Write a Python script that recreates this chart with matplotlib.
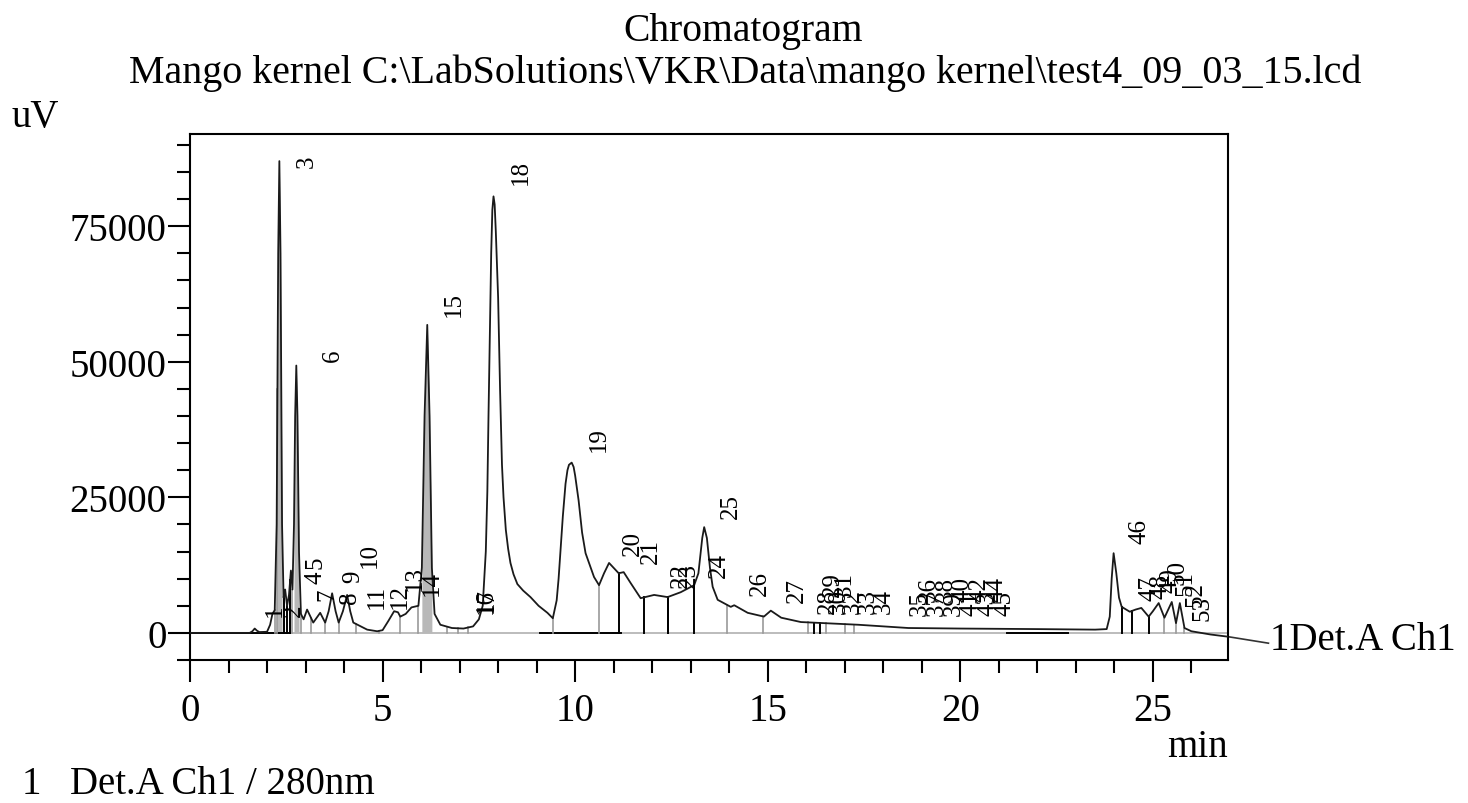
import numpy as np
import matplotlib
matplotlib.use("Agg")
import matplotlib.pyplot as plt
from matplotlib.ticker import MultipleLocator

# ---- data: (retention time [min], signal [uV]) ----
trace_early = [(0.0, 0), (1.55, 0), (1.62, 300), (1.68, 800), (1.74, 400), (1.80, 150), (2.00, 200),
               (2.08, 1500), (2.14, 3500), (2.20, 4200), (2.25, 20000), (2.29, 70000), (2.32, 87000),
               (2.35, 70000), (2.39, 20000), (2.43, 6500), (2.47, 8000), (2.52, 5000), (2.57, 7000),
               (2.62, 11500), (2.66, 8000), (2.70, 20000), (2.73, 40000), (2.76, 49300), (2.79, 40000),
               (2.83, 15000), (2.88, 3500), (2.95, 2500), (3.04, 4300), (3.20, 1900), (3.38, 3700),
               (3.51, 1900), (3.60, 4000), (3.69, 7300), (3.78, 4000), (3.86, 1900), (3.97, 4000),
               (4.08, 7000), (4.16, 4000), (4.24, 1900), (4.60, 600), (4.86, 300), (5.00, 500),
               (5.15, 2200), (5.30, 4000), (5.40, 3800), (5.46, 3000), (5.60, 3500), (5.75, 4700),
               (5.93, 5000), (6.02, 12000), (6.09, 40000), (6.16, 56800), (6.22, 40000), (6.28, 12000),
               (6.35, 3500), (6.50, 1500), (6.80, 900), (7.10, 800), (7.35, 1200), (7.50, 2500)]
trace_middle = [(7.60, 5000), (7.68, 15000), (7.72, 26000), (7.75, 40000), (7.79, 57000), (7.82, 70000),
                (7.85, 78000), (7.88, 80500), (7.91, 79000), (7.94, 74000), (7.97, 68000), (8.00, 61800),
                (8.05, 45000), (8.10, 31000), (8.14, 25000), (8.20, 19000), (8.26, 15500), (8.32, 12900),
                (8.40, 10800), (8.50, 9000), (8.65, 7800), (8.84, 6600), (9.05, 5000), (9.28, 3700),
                (9.42, 2700), (9.52, 6000), (9.57, 10000), (9.62, 15300), (9.68, 21500), (9.75, 27500),
                (9.80, 30000), (9.84, 31000), (9.91, 31400), (9.96, 30600), (10.00, 29000),
                (10.04, 27000), (10.09, 24400), (10.18, 18500), (10.27, 14700), (10.49, 10300),
                (10.62, 8800), (10.75, 11000), (10.88, 12900), (11.00, 12000), (11.13, 11000),
                (11.26, 11200), (11.44, 9200), (11.70, 6400), (12.05, 7000), (12.40, 6600),
                (12.74, 7500), (13.09, 8800), (13.20, 11000), (13.30, 17500), (13.35, 19500),
                (13.42, 17500), (13.50, 12000), (13.57, 8500), (13.70, 6100), (14.04, 4800),
                (14.13, 5100), (14.48, 3700), (14.90, 3000), (15.08, 4100), (15.35, 2800),
                (15.86, 2000), (16.46, 1800), (17.35, 1500), (18.65, 900)]
trace_late = [(20.00, 800), (22.00, 700), (23.50, 600), (23.80, 700), (23.88, 3000), (23.93, 10000),
              (23.98, 14700), (24.05, 11000), (24.12, 6500), (24.19, 4800), (24.40, 3900), (24.55, 4300),
              (24.70, 4600), (24.89, 3000), (25.00, 4000), (25.15, 5500), (25.30, 2800), (25.49, 5700),
              (25.60, 1800), (25.70, 5500), (25.82, 900), (26.00, 300), (26.50, -300), (26.95, -700)]

peak_ids = ["1", "2", "3", "4", "5", "6", "7", "8", "9", "10", "11", "12", "13", "14", "15", "16", "17",
            "18", "19", "20", "21", "22", "23", "24", "25", "26", "27",
            "28", "29", "30", "31", "32", "33", "34",
            "35", "36", "37", "38", "39", "40", "41", "42", "43", "44", "45",
            "46", "47", "48", "49", "50", "51", "52", "53"]
label_time = [2.20, 2.70, 3.02, 3.25, 3.25, 3.72, 3.56, 4.16, 4.24, 4.68, 4.84, 5.46, 5.85, 6.27, 6.85, 7.67, 7.72,
              8.60, 10.62, 11.50, 11.96, 12.75, 12.95, 13.73, 14.04, 14.80, 15.76,
              16.55, 16.70, 16.85, 17.00, 17.20, 17.60, 18.00,
              18.95, 19.17, 19.39, 19.61, 19.83, 20.05, 20.27, 20.49, 20.71, 20.93, 21.15,
              24.66, 24.90, 25.20, 25.45, 25.65, 25.85, 26.10, 26.30]
label_base = [3200, 3200, 86000, 9200, 12000, 50200, 6100, 5500, 9400, 12100, 4600, 4600, 7900, 7000, 58400, 3700, 3900,
              82700, 33600, 14300, 12900, 8500, 8500, 10300, 21100, 7000, 5700,
              3700, 6800, 3700, 6800, 3700, 3700, 3700,
              3300, 5900, 3300, 5900, 3300, 5900, 3300, 5900, 3300, 5900, 3300,
              16500, 6100, 6500, 7500, 9000, 7000, 5000, 2400]

drop_black = [2.43, 2.52, 2.60, 11.13, 11.78, 12.40, 12.42, 13.09, 16.20, 16.35, 24.19, 24.45, 24.89]
drop_gray = [2.20, 2.27, 2.66, 2.88, 3.14, 3.51, 3.86, 4.30, 4.90, 5.46, 5.93, 6.68, 6.97, 7.23,
             9.42, 10.62, 13.93, 14.88, 16.05, 16.50, 17.00, 17.25, 25.30, 25.60, 25.82]
shaded_peaks = [(2.22, 2.42), (2.69, 2.86), (6.02, 6.30)]

x_major = [0, 5, 10, 15, 20, 25]
y_major = [0, 25000, 50000, 75000]

# ---- figure ----
W, H = 1468, 804
fig = plt.figure(figsize=(W / 100, H / 100), dpi=100)
ax = fig.add_axes([190 / W, 1 - 661 / H, (1228 - 190) / W, (661 - 135) / H])
serif = ["Liberation Serif", "DejaVu Serif"]
fs = 28

pts = np.array(trace_early + trace_middle + trace_late, dtype=float)
order = np.argsort(pts[:, 0], kind="stable")
t = pts[order, 0]
s = pts[order, 1]

ax.axhline(0, color="#b0b0b0", lw=1.2, zorder=1)
ax.plot([0, 2.6], [0, 0], color="black", lw=1.4, zorder=2)
ax.plot([9.1, 11.2], [0, 0], color="black", lw=1.4, zorder=2)
ax.plot([21.2, 22.8], [0, 0], color="black", lw=1.4, zorder=2)

# narrow peaks print as grey-filled spikes
for a, b in shaded_peaks:
    m = (t >= a) & (t <= b)
    ax.fill_between(t[m], 0, s[m], color="#b8b8b8", lw=0, zorder=1.5)

for xv in drop_gray:
    ax.plot([xv, xv], [0, np.interp(xv, t, s)], color="#9a9a9a", lw=1.2, zorder=2)
for xv in drop_black:
    ax.plot([xv, xv], [0, np.interp(xv, t, s)], color="black", lw=1.4, zorder=2)

ax.plot(t, s, color="#1a1a1a", lw=1.3, zorder=3)

for lab, lt, lb in zip(peak_ids, label_time, label_base):
    ax.text(lt, lb, lab, rotation=90, ha="center", va="bottom", fontsize=18,
            family=serif, color="black", zorder=4)

ax.set_xlim(0, 26.95)
ax.set_ylim(-5000, 92000)
ax.set_xticks(x_major)
ax.set_yticks(y_major)
ax.xaxis.set_minor_locator(MultipleLocator(1))
ax.yaxis.set_minor_locator(MultipleLocator(5000))
ax.tick_params(which="major", direction="out", length=16, width=1.5, labelsize=fs, pad=1)
ax.tick_params(axis="x", which="major", pad=7)
ax.tick_params(which="minor", direction="out", length=9.5, width=1.5)
for lbl in ax.get_xticklabels() + ax.get_yticklabels():
    lbl.set_family(serif)
for sp in ax.spines.values():
    sp.set_linewidth(1.5)

# leader line to channel label
ax.plot([26.95, 28.0], [-700, -1900], color="#333333", lw=1.2, clip_on=False)
ax.text(28.05, -1300, "1Det.A Ch1", fontsize=fs, family=serif, ha="left", va="center")

fig.text(743 / W, 1 - 31 / H, "Chromatogram", fontsize=28.5, family=serif, ha="center", va="center")
fig.text(745 / W, 1 - 73 / H, "Mango kernel C:\\LabSolutions\\VKR\\Data\\mango kernel\\test4_09_03_15.lcd",
         fontsize=28.8, family=serif, ha="center", va="center")
fig.text(12 / W, 1 - 118 / H, "uV", fontsize=fs, family=serif, ha="left", va="center")
fig.text(1198 / W, 1 - 748 / H, "min", fontsize=fs, family=serif, ha="center", va="center")
fig.text(22 / W, 1 - 785 / H, "1", fontsize=fs, family=serif, ha="left", va="center")
fig.text(70 / W, 1 - 785 / H, "Det.A Ch1 / 280nm", fontsize=fs, family=serif, ha="left", va="center")

fig.savefig("out.png", dpi=100)
